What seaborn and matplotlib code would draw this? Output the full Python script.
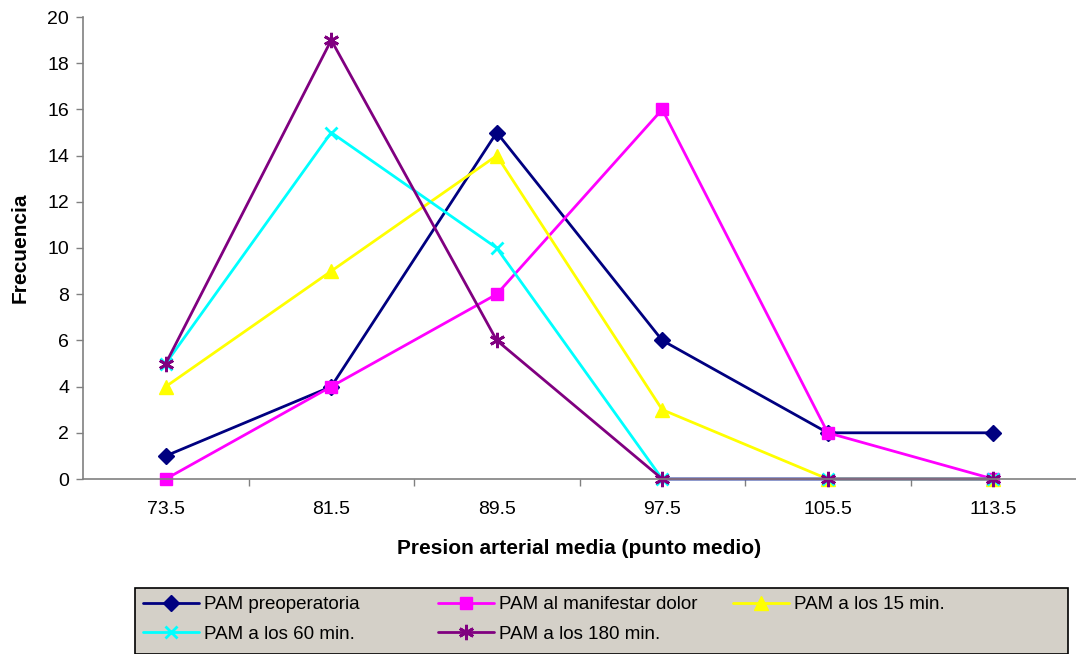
import numpy as np
import pandas as pd
import matplotlib
matplotlib.use('Agg')
import matplotlib.pyplot as plt
import seaborn as sns
from matplotlib.patches import Rectangle

# categories (class midpoints) and frequencies
midpoints = ['73.5', '81.5', '89.5', '97.5', '105.5', '113.5']
pam_preop = [1, 4, 15, 6, 2, 2]
pam_dolor = [0, 4, 8, 16, 2, 0]
pam_15 = [4, 9, 14, 3, 0, 0]
pam_60 = [5, 15, 10, 0, 0, 0]
pam_180 = [5, 19, 6, 0, 0, 0]

names = ['PAM preoperatoria', 'PAM al manifestar dolor', 'PAM a los 15 min.',
         'PAM a los 60 min.', 'PAM a los 180 min.']
values = [pam_preop, pam_dolor, pam_15, pam_60, pam_180]
colors = ['#000080', '#FF00FF', '#FFFF00', '#00FFFF', '#800080']
markers = ['D', 's', '^', 'x', (6, 2, 0)]
msizes = [8, 9, 10, 9, 11]

sns.set_style('white')
plt.rcParams['font.family'] = ['Liberation Sans', 'DejaVu Sans']
plt.rcParams['text.color'] = 'black'
plt.rcParams['axes.labelcolor'] = 'black'
plt.rcParams['xtick.color'] = 'black'
plt.rcParams['ytick.color'] = 'black'

fig = plt.figure(figsize=(10.76, 6.54), dpi=100)
ax = fig.add_axes([83/1076, 1-479/654, 993/1076, (479-17)/654])

pos = np.arange(len(midpoints))
for name, vals, c, m, ms in zip(names, values, colors, markers, msizes):
    df = pd.DataFrame({'x': pos, 'y': vals})
    thick = m == 'x' or isinstance(m, tuple)
    sns.lineplot(data=df, x='x', y='y', ax=ax, color=c, marker=m, markersize=ms,
                 markeredgecolor=c, markeredgewidth=2 if thick else 1,
                 linewidth=2, label=name, clip_on=False)

ax.set_xlim(-0.5, 5.5)
ax.set_ylim(0, 20)
ax.set_yticks(range(0, 21, 2))
ax.set_xticks(pos)
ax.set_xticklabels(midpoints)
ax.set_xticks(np.arange(0.5, 5.0, 1.0), minor=True)
ax.tick_params(axis='x', which='major', length=0, labelsize=14, pad=16, labelcolor='black')
ax.tick_params(axis='x', which='minor', length=5, width=1, color='#808080', direction='out', bottom=True)
ax.tick_params(axis='y', length=5, width=1, color='#808080', direction='out', left=True,
               labelsize=14, pad=5, labelcolor='black')
for s in ['top', 'right']:
    ax.spines[s].set_visible(False)
for s in ['left', 'bottom']:
    ax.spines[s].set_color('#808080')
    ax.spines[s].set_linewidth(1.2)

ax.set_xlabel('Presion arterial media (punto medio)', fontsize=15, fontweight='bold', labelpad=15)
ax.set_ylabel('Frecuencia', fontsize=15, fontweight='bold', labelpad=13)

# legend box (Excel style grey panel)
fig.patches.append(Rectangle((135/1076, 0), 933/1076, (654-588)/654, transform=fig.transFigure,
                             facecolor='#D4D0C8', edgecolor='black', linewidth=1.2, zorder=0))
handles, labels = ax.get_legend_handles_labels()
ax.legend().remove()
# Excel lays the entries out in fixed-width columns, one legend per column here
columns = [[0, 3], [1, 4], [2]]
col_x = [143, 438, 733]
for idx, x0 in zip(columns, col_x):
    fig.legend([handles[i] for i in idx], [labels[i] for i in idx], loc='upper left',
               bbox_to_anchor=(x0/1076, 1-596/654), ncol=1, frameon=False, fontsize=13.5,
               handlelength=3.0, handletextpad=0.25, labelspacing=0.66,
               borderaxespad=0, borderpad=0)

fig.savefig('out.png', dpi=100)
